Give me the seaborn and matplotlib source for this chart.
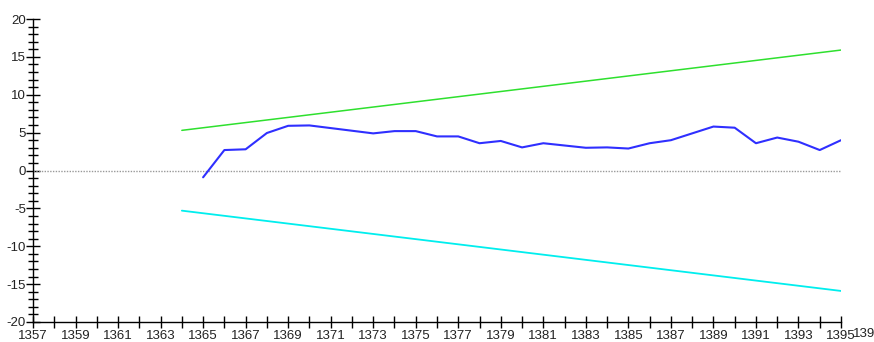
import matplotlib
matplotlib.use("Agg")
import matplotlib.pyplot as plt
from matplotlib.ticker import MultipleLocator
import seaborn as sns
import pandas as pd

# ---- data ----
years = list(range(1365, 1396))
cusum = [-0.9, 2.7, 2.8, 4.95, 5.9, 5.95, 5.6, 5.25, 4.9, 5.2, 5.2, 4.5, 4.5,
         3.6, 3.9, 3.05, 3.6, 3.3, 3.0, 3.05, 2.9, 3.6, 4.0, 4.9, 5.8, 5.65,
         3.6, 4.35, 3.8, 2.7, 4.0]
bound_years = [1364, 1395]
upper_bound = [5.3, 15.9]
lower_bound = [-5.3, -15.9]
zero_years = [1357, 1395]
zero_vals = [0, 0]
xtick_labels = [str(y) for y in range(1357, 1396, 2)]
ytick_labels = [str(v) for v in range(-20, 21, 5)]

sns.set_theme(style="white")
plt.rcParams['font.family'] = ['Liberation Sans', 'DejaVu Sans']

fig = plt.figure(figsize=(8.74, 3.42), dpi=100)
ax = fig.add_axes([33/874, 20/342, (841-33)/874, (322-19)/342])

df = pd.DataFrame({"year": years, "cusum": cusum})
dfb = pd.DataFrame({"year": bound_years, "up": upper_bound, "lo": lower_bound})
dfz = pd.DataFrame({"year": zero_years, "z": zero_vals})

sns.lineplot(data=dfz, x="year", y="z", ax=ax, color="#999999", lw=1.0,
             linestyle=(0, (1, 1)))
sns.lineplot(data=dfb, x="year", y="up", ax=ax, color="#2ee02e", lw=1.1)
sns.lineplot(data=dfb, x="year", y="lo", ax=ax, color="#00eeee", lw=1.3)
sns.lineplot(data=df, x="year", y="cusum", ax=ax, color="#2f2fff", lw=1.5)

ax.set_xlim(1357, 1395)
ax.set_ylim(-20, 20)
ax.set_xlabel("")
ax.set_ylabel("")

ax.set_xticks(list(range(1357, 1396, 2)))
ax.set_xticklabels(xtick_labels)
ax.set_xticks(list(range(1358, 1395, 2)), minor=True)
ax.set_yticks(list(range(-20, 21, 5)))
ax.set_yticklabels(ytick_labels)
ax.yaxis.set_minor_locator(MultipleLocator(1))

ax.tick_params(axis='x', which='both', direction='inout', length=8, width=1,
               color='black', bottom=True, labelsize=9.5, pad=2, labelcolor='#222222')
ax.tick_params(axis='y', which='major', direction='inout', length=10, width=1,
               color='black', left=True, labelsize=9.5, pad=0, labelcolor='#222222')
ax.tick_params(axis='y', which='minor', direction='inout', length=7, width=1,
               color='black', left=True)

for s in ['top', 'right']:
    ax.spines[s].set_visible(False)
for s in ['left', 'bottom']:
    ax.spines[s].set_color('black')
    ax.spines[s].set_linewidth(1.0)
ax.set_facecolor('white')

fig.text(853/874, 1 - 334/342, "1395", fontsize=9.5, color='#222222',
         ha='left', va='center')

fig.savefig("out.png", dpi=100)
